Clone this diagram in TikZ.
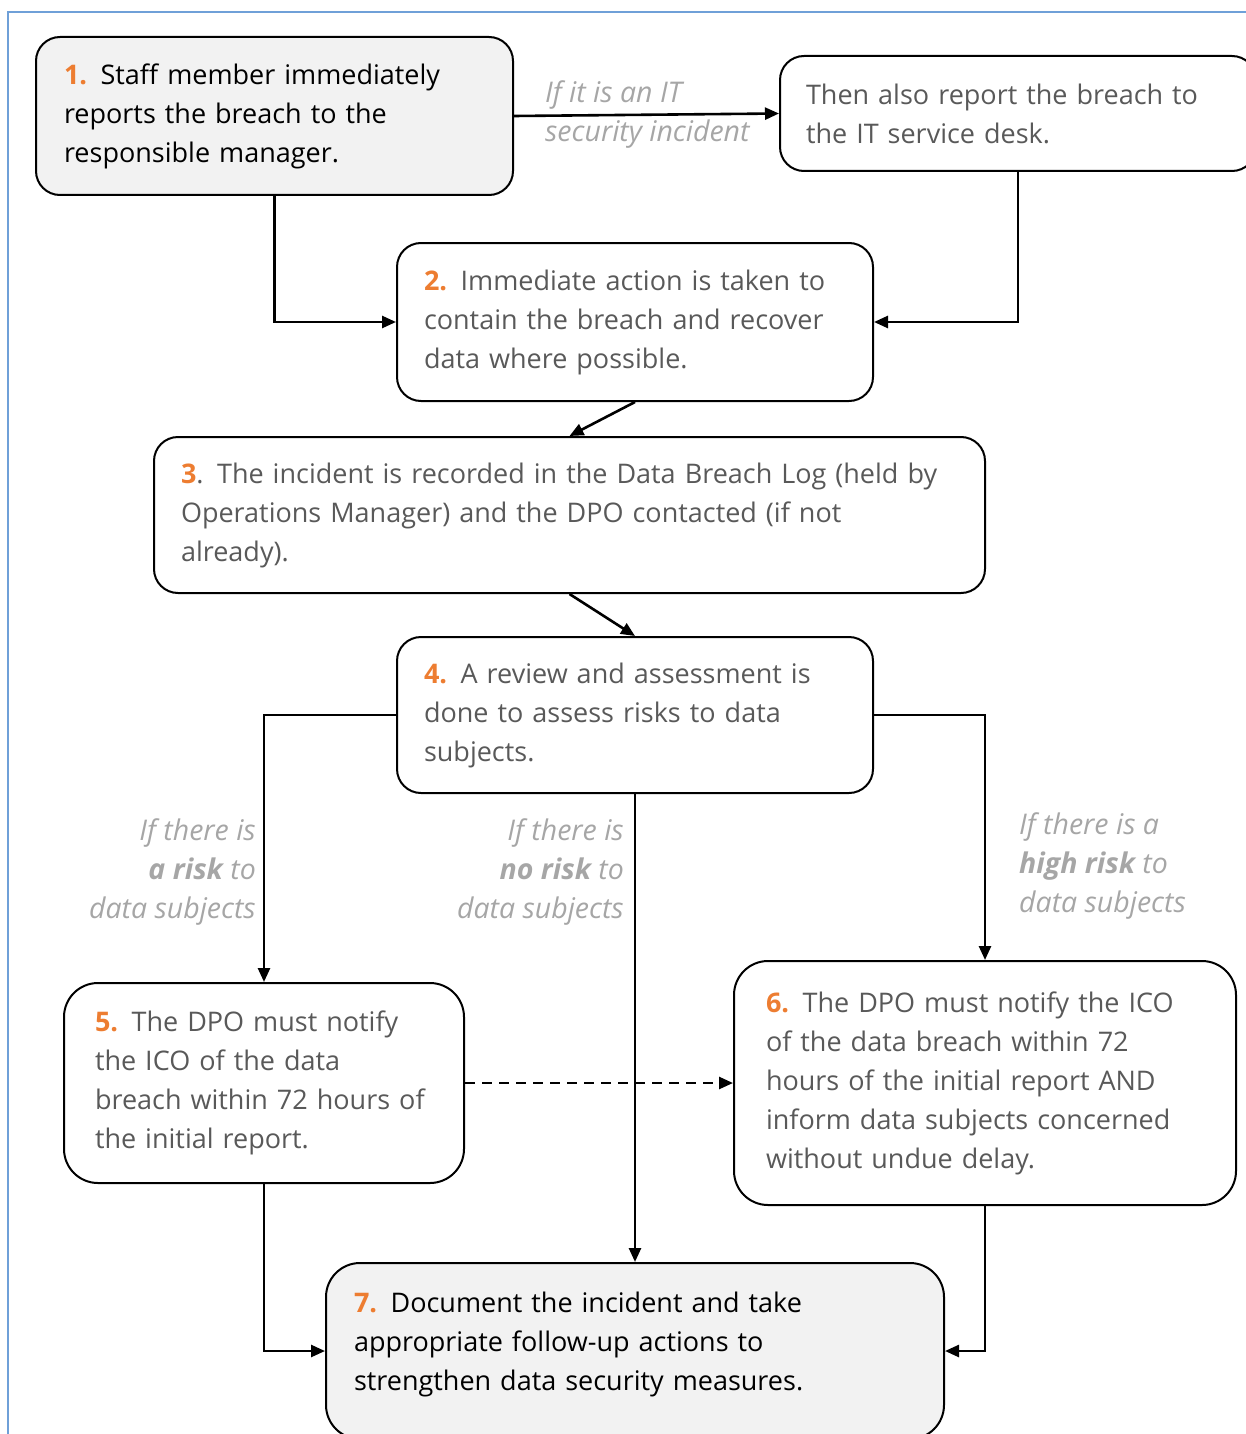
\documentclass[tikz,border=0pt]{standalone}
\usepackage{fontspec}
\setmainfont{Open Sans}
\usetikzlibrary{arrows.meta}
\definecolor{orng}{HTML}{ED7D31}
\definecolor{txtgray}{HTML}{595959}
\definecolor{lblgray}{HTML}{A6A6A6}
\definecolor{boxfill}{HTML}{F2F2F2}
\definecolor{frameblue}{HTML}{6FA0D8}
\newcommand{\num}[1]{\textcolor{orng}{\textbf{#1}}}
\begin{document}
\begin{tikzpicture}[x=1pt,y=-1pt,
  box/.style={draw=black, line width=2pt, rounded corners=24pt, align=left,
    font=\fontsize{27}{39}\selectfont, inner ysep=0pt, text=txtgray},
  bigbox/.style={box, rounded corners=34pt},
  lbl/.style={font=\fontsize{28.5}{39}\selectfont\itshape, text=lblgray, inner sep=0pt},
  conn/.style={line width=2.6pt, -{Triangle[length=14pt,width=12pt]}}
]
\useasboundingbox (0,0) rectangle (1246,1434);
\draw[frameblue, line width=1.5pt] (8,1434) -- (8,12) -- (1250,12);

% boxes
\node[box, fill=boxfill, text=black, minimum width=477pt, minimum height=158pt,
  inner xsep=28pt, text width=421pt] (b1) at (274.5,116)
  {\num{1.} Staff member immediately\\reports the breach to the\\responsible manager.};
\node[box, minimum width=476pt, minimum height=115pt, inner xsep=26pt, text width=424pt]
  (it) at (1018,113.5) {Then also report the breach to\\the IT service desk.};
\node[box, minimum width=476pt, minimum height=158pt, inner xsep=27pt, text width=422pt]
  (b2) at (635,322) {\num{2.} Immediate action is taken to\\contain the breach and recover\\data where possible.};
\node[box, minimum width=831pt, minimum height=156pt, inner xsep=27pt, text width=777pt]
  (b3) at (569.5,515) {\num{3}. The incident is recorded in the Data Breach Log (held by\\Operations Manager) and the DPO contacted (if not\\already).};
\node[box, minimum width=476pt, minimum height=156pt, inner xsep=27pt, text width=422pt]
  (b4) at (635,715) {\num{4.} A review and assessment is\\done to assess risks to data\\subjects.};
\node[bigbox, minimum width=400pt, minimum height=200pt, inner xsep=31pt, text width=338pt]
  (b5) at (264,1083) {\num{5.} The DPO must notify\\the ICO of the data\\breach within 72 hours of\\the initial report.};
\node[bigbox, minimum width=502pt, minimum height=244pt, inner xsep=32pt, text width=438pt]
  (b6) at (985,1083) {\num{6.} The DPO must notify the ICO\\of the data breach within 72\\hours of the initial report AND\\inform data subjects concerned\\without undue delay.};
\node[bigbox, fill=boxfill, text=black, minimum width=618pt, minimum height=176pt,
  inner xsep=28pt, text width=562pt] (b7) at (635,1351)
  {\num{7.} Document the incident and take\\appropriate follow-up actions to\\strengthen data security measures.\\[-19pt]\mbox{}};

% labels
\node[lbl, anchor=west, align=left] (l1) at (545,115) {If it is an IT\\security incident};
\node[lbl, anchor=east, align=right] (l2) at (256,872) {If there is\\\textbf{a risk} to\\data subjects};
\node[lbl, anchor=east, align=right] (l3) at (624,872) {If there is\\\textbf{no risk} to\\data subjects};
\node[lbl, anchor=west, align=left] (l4) at (1019,866) {If there is a\\\textbf{high risk} to\\data subjects};

% connectors
\draw[conn] (b1.east) -- (it.west);
\draw[conn] (b1.south) |- (b2.west);
\draw[conn] (it.south) |- (b2.east);
\draw[conn] (b2.south) -- (b3.north);
\draw[conn] (b3.south) -- (b4.north);
\draw[conn] (b4.west) -| (b5.north);
\draw[conn] (b4.east) -| (b6.north);
\draw[conn] (b4.south) -- (b7.north);
\draw[conn, dashed, dash pattern=on 10pt off 7pt] (b5.east) -- (b6.west);
\draw[conn] (b5.south) |- (b7.west);
\draw[conn] (b6.south) |- (b7.east);
\end{tikzpicture}
\end{document}
